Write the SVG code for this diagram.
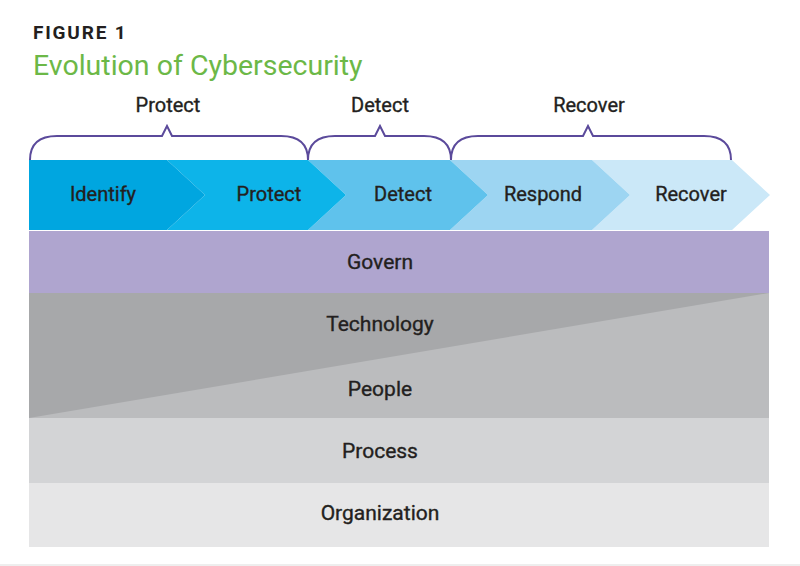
<svg xmlns="http://www.w3.org/2000/svg" width="800" height="566" viewBox="0 0 800 566">
<style>
.t{font-family:Roboto,"Liberation Sans",sans-serif;fill:#231f20;text-anchor:middle;stroke:#231f20;stroke-width:0.35}
.chev{font-size:20px;font-weight:400}
.band{font-size:21px;font-weight:400}
.top{font-size:20px;font-weight:400}
.br{fill:none;stroke:#5b4a9b;stroke-width:2}
</style>
<rect width="800" height="566" fill="#ffffff"/>
<g id="title">
<text x="33" y="39" style="font-family:Roboto,'Liberation Sans',sans-serif;font-size:19px;font-weight:700;letter-spacing:1.8px;fill:#231f20">FIGURE 1</text>
<text x="33" y="75" style="font-family:Roboto,'Liberation Sans',sans-serif;font-size:28.5px;fill:#6cb847">Evolution of Cybersecurity</text>
</g>
<g id="bands">
<g id="organization"><rect x="29" y="483" width="740" height="64" fill="#e6e6e7"/><text class="t band" x="380" y="520">Organization</text></g>
<g id="process"><rect x="29" y="418" width="740" height="65" fill="#d3d4d6"/><text class="t band" x="380" y="458">Process</text></g>
<g id="people"><rect x="29" y="293" width="740" height="125" fill="#bbbcbe"/></g>
<g id="technology"><polygon points="29,293 769,293 29,418" fill="#a7a8aa"/><text class="t band" x="380" y="331">Technology</text></g>
<g id="people-label"><text class="t band" x="380" y="396">People</text></g>
<g id="govern"><rect x="29" y="231" width="740" height="62" fill="#afa5cf"/><text class="t band" x="380" y="269">Govern</text></g>
</g>
<g id="chevrons">
<g id="recover"><polygon points="592,160 732,160 770,195 732,230 592,230 630,195" fill="#cbe8f8"/><text class="t chev" x="691" y="201">Recover</text></g>
<g id="respond"><polygon points="450,160 592,160 630,195 592,230 450,230 488,195" fill="#9dd5f2"/><text class="t chev" x="543" y="201">Respond</text></g>
<g id="detect"><polygon points="308,160 450,160 488,195 450,230 308,230 346,195" fill="#5fc2ec"/><text class="t chev" x="403" y="201">Detect</text></g>
<g id="protect"><polygon points="167,160 308,160 346,195 308,230 167,230 205,195" fill="#0db4e9"/><text class="t chev" x="269" y="201">Protect</text></g>
<g id="identify"><polygon points="29,160 167,160 205,195 167,230 29,230" fill="#00a6e0"/><text class="t chev" x="103" y="201">Identify</text></g>
</g>
<g id="brackets">
<g id="br-protect"><path class="br" d="M30,160 C30,143 40,136 57,136 L162,136 L167,126 L172,136 L281,136 C298,136 308,143 308,160"/><text class="t top" x="168" y="112">Protect</text></g>
<g id="br-detect"><path class="br" d="M308,160 C308,143 318,136 335,136 L375,136 L380,126 L385,136 L424,136 C441,136 451,143 451,160"/><text class="t top" x="380" y="112">Detect</text></g>
<g id="br-recover"><path class="br" d="M451,160 C451,143 461,136 478,136 L583,136 L588,126 L593,136 L704,136 C721,136 731,143 731,160"/><text class="t top" x="589" y="112">Recover</text></g>
</g>
<rect x="0" y="564" width="800" height="2" fill="#eeeeee"/>
</svg>
